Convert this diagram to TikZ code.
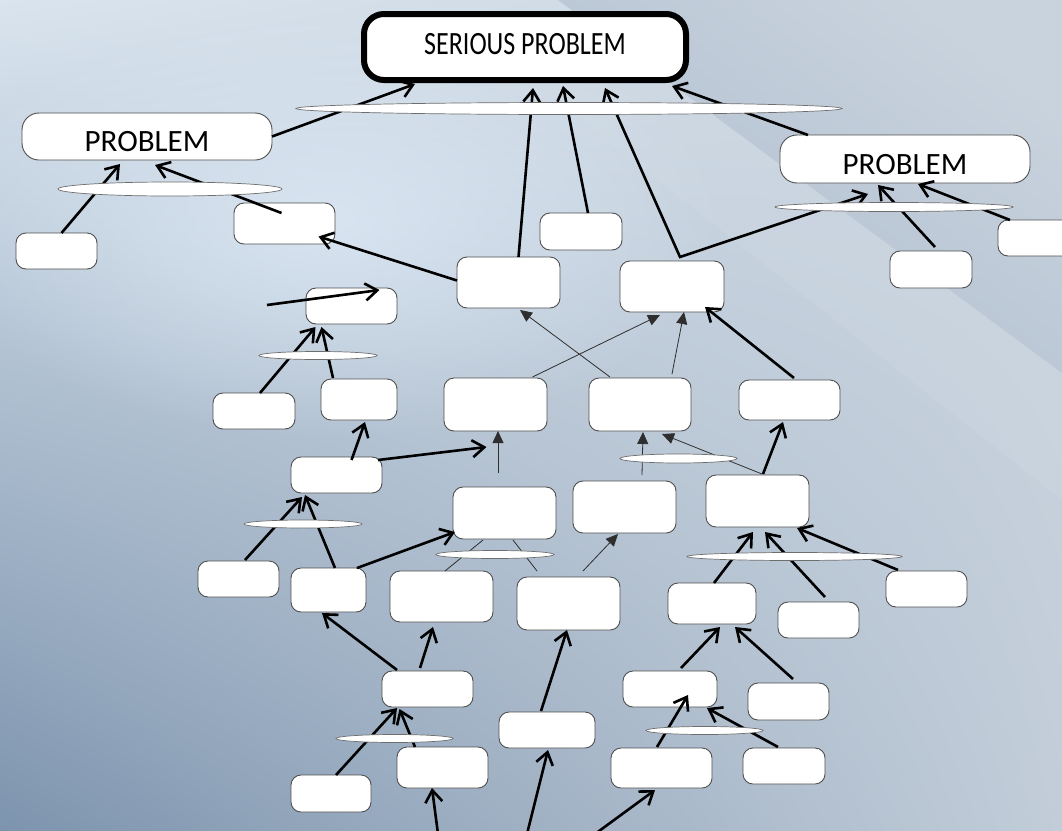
\documentclass[tikz,border=0pt]{standalone}
\usepackage{fontspec}
\setmainfont{Carlito}
\usetikzlibrary{arrows.meta,shapes.geometric,fadings,shadings}

\definecolor{bgUL}{HTML}{D9E4EE}
\definecolor{bgUR}{HTML}{CBD5E0}
\definecolor{bgLL}{HTML}{7D94AE}
\definecolor{bgLR}{HTML}{C2CDD9}
\definecolor{glowc}{HTML}{DCE8F4}
\definecolor{creaseLight}{HTML}{C9D3DE}
\definecolor{creaseDark}{HTML}{AEBDCD}
\definecolor{bandc}{HTML}{D3DDE7}
\definecolor{boxline}{HTML}{4F4F4F}
\definecolor{jline}{HTML}{6E6E6E}
\definecolor{thinc}{HTML}{2E2E2E}

\tikzfading[name=softglow, inner color=transparent!15, outer color=transparent!100]

% box: name, centre x, centre y, width, height
\newcommand\bx[5]{\node[box, minimum width=#4pt, minimum height=#5pt] (#1) at (#2,#3) {};}
% junction ellipse: name, centre x, centre y, width, height
\newcommand\jn[5]{\node[junction, minimum width=#4pt, minimum height=#5pt] (#1) at (#2,#3) {};}

\begin{document}
\begin{tikzpicture}[x=1pt,y=-1pt,
  >={Straight Barb[length=12pt,width=17pt]},
  box/.style={draw=boxline, fill=white, rounded corners=10pt, line width=0.9pt,
    inner sep=0pt, outer sep=0pt},
  problem/.style={box, rounded corners=17pt, font=\fontsize{31}{31}\selectfont,
    text height=30pt, text depth=0pt},
  serious/.style={draw=black, fill=white, line width=6pt, rounded corners=20pt,
    inner sep=0pt, outer sep=0pt, font=\fontsize{26}{26}\selectfont,
    text height=22pt, text depth=7pt},
  junction/.style={ellipse, draw=jline, fill=white, line width=0.7pt, inner sep=0pt},
  link/.style={line width=2.6pt, ->},
  linkboth/.style={line width=2.6pt, <->},
  fine/.style={line width=0.8pt, draw=thinc, -{Triangle[length=12pt,width=11pt]}},
  plain/.style={line width=0.8pt, draw=thinc}]

\useasboundingbox (0,0) rectangle (1062,830);
\clip (0,0) rectangle (1062,830);

% background
\shade[upper left=bgUL, upper right=bgUR, lower left=bgLL, lower right=bgLR]
  (0,0) rectangle (1062,830);
\fill[glowc, path fading=softglow] (330,220) ellipse (400 and 220);
\fill[bandc, opacity=0.25] (430,0) -- (558,0) -- (1062,373) -- (1062,500) -- cycle;
\shade[top color=creaseLight, bottom color=creaseDark, shading angle=-36.5]
  (558,0) -- (1062,0) -- (1062,373) -- cycle;

% boxes
\node[serious, minimum width=322pt, minimum height=66pt] (SP) at (525,47)
  {\scalebox{1}[1.25]{SERIOUS PROBLEM}};
\node[problem, minimum width=250pt, minimum height=47pt] (PL) at (147,136.5) {PROBLEM};
\node[problem, minimum width=250pt, minimum height=48pt] (PR) at (905,159) {PROBLEM};

\bx{L1}{56.5}{251}{81}{36}
\bx{L2}{284.5}{223.5}{101}{41}
\bx{M1}{581}{231.5}{82}{37}
\bx{R1}{1039}{238}{82}{36}
\bx{R2}{931}{269.5}{82}{37}
\bx{A}{508.5}{282.5}{103}{51}
\bx{B}{672}{286.5}{104}{51}
\bx{C}{351.5}{306}{91}{36}
\bx{D}{254}{411}{82}{36}
\bx{E}{359}{399.5}{76}{41}
\bx{F}{495.5}{404.5}{103}{53}
\bx{G}{640}{404.5}{102}{53}
\bx{H}{789.5}{400}{101}{40}
\bx{I}{336.5}{475}{91}{36}
\bx{J}{504.5}{513}{103}{52}
\bx{K}{624.5}{507}{103}{52}
\bx{L}{757.5}{501}{103}{52}
\bx{M}{238.5}{579}{81}{36}
\bx{N}{328.5}{590}{75}{44}
\bx{O}{441.5}{596.5}{103}{51}
\bx{P}{568.5}{603.5}{103}{53}
\bx{Q}{712}{603.5}{88}{41}
\bx{R}{926.5}{589}{81}{36}
\bx{S}{818.5}{620}{81}{36}
\bx{T}{427.5}{689}{91}{36}
\bx{U}{670}{689}{94}{36}
\bx{V}{788.5}{701.5}{81}{37}
\bx{W}{547}{730}{96}{36}
\bx{X}{331}{793.5}{80}{37}
\bx{Y}{442.5}{767.5}{91}{41}
\bx{Z}{661.5}{768}{101}{40}
\bx{AA}{784}{766}{82}{36}

% loose ends
\coordinate (cin) at (267,305);
\coordinate (b1) at (438,834);
\coordinate (b2) at (527,834);
\coordinate (b3) at (595,834);

% links into the serious problem
\draw[link] (PL.east) -- ([xshift=-110pt,yshift=-4pt]SP.south);
\draw[link] ([xshift=10pt]A.north) -- ([xshift=8pt,yshift=-8pt]SP.south);
\draw[link] ([xshift=7pt]M1.north) -- ([xshift=38pt,yshift=-6pt]SP.south);
\draw[linkboth] ([xshift=80pt,yshift=-8pt]SP.south) -- ([xshift=8pt,yshift=4pt]B.north)
  -- ([xshift=-37pt,yshift=-11pt]PR.south);
\draw[link] ([xshift=-97pt]PR.north) -- ([xshift=147pt,yshift=-6pt]SP.south);

% left problem
\draw[link] ([xshift=5pt]L1.north) -- ([xshift=-27pt,yshift=-4pt]PL.south);
\draw[link] ([xshift=-3pt,yshift=-10pt]L2.north) -- ([xshift=8pt,yshift=-5pt]PL.south);
\draw[link] ([yshift=2pt]A.west) -- ([xshift=34pt,yshift=-13pt]L2.center);

% right problem
\draw[link] ([xshift=4pt,yshift=4pt]R2.north) -- ([xshift=-27pt,yshift=-2pt]PR.south);
\draw[link] ([xshift=-29pt]R1.north) -- ([xshift=13pt,yshift=-1pt]PR.south);

% left column
\draw[link] (cin) -- ([xshift=28pt,yshift=16pt]C.center);
\draw[link] ([xshift=6pt]D.north) -- ([xshift=-36pt,yshift=-3pt]C.south);
\draw[link] ([xshift=-26pt,yshift=1pt]E.north) -- ([xshift=-30pt,yshift=-3pt]C.south);
\draw[link] ([xshift=15pt,yshift=-3pt]I.north) -- ([xshift=6pt,yshift=-2pt]E.south);
\draw[link] ([xshift=-4pt,yshift=15pt]I.east) -- ([xshift=-9pt,yshift=-16pt]F.south);
\draw[link] ([xshift=6.5pt,yshift=1pt]M.north) -- ([xshift=-34.5pt,yshift=-4pt]I.south);
\draw[link] ([xshift=6.5pt]N.north) -- ([xshift=-31.5pt,yshift=-2pt]I.south);
\draw[link] ([xshift=28.5pt]N.north) -- ([xshift=2pt,yshift=-19pt]J.west);

% thin links in the middle
\draw[fine] ([xshift=-6.5pt,yshift=14pt]J.north) -- ([xshift=2.5pt]F.south);
\draw[fine] ([xshift=37pt,yshift=1pt]F.north) -- ([xshift=-12pt,yshift=-3pt]B.south);
\draw[fine] ([xshift=-30pt,yshift=1pt]G.north) -- ([xshift=11.5pt,yshift=-2pt]A.south);
\draw[fine] ([xshift=32pt,yshift=4pt]G.north) -- ([xshift=12pt]B.south);
\draw[fine] ([xshift=17.5pt,yshift=6pt]K.north) -- ([xshift=3pt,yshift=-1pt]G.south);
\draw[fine] ([xshift=4.5pt,yshift=1pt]L.north) -- ([xshift=22pt,yshift=-3pt]G.south);
\draw[fine] ([xshift=14.5pt,yshift=6pt]P.north) -- ([xshift=-6.5pt,yshift=-1pt]K.south);
\draw[plain] ([xshift=3.5pt]O.north) -- ([xshift=-21.5pt,yshift=-1pt]J.south);
\draw[plain] ([xshift=-31.5pt,yshift=6pt]P.north) -- ([xshift=8.5pt,yshift=-1pt]J.south);

% right column
\draw[link] ([xshift=4.5pt,yshift=2pt]H.north) -- ([xshift=-19pt,yshift=-20.5pt]B.east);
\draw[link] ([xshift=5.5pt,yshift=1pt]L.north) -- ([xshift=-6.5pt,yshift=-2pt]H.south);
\draw[link] ([xshift=2pt]Q.north) -- ([xshift=-4.5pt,yshift=-5pt]L.south);
\draw[link] ([xshift=6.5pt,yshift=5pt]S.north) -- ([xshift=7.5pt,yshift=-5pt]L.south);
\draw[link] ([xshift=-28.5pt,yshift=1pt]R.north) -- ([xshift=-12pt,yshift=-1pt]L.south east);

% lower part
\draw[link] ([xshift=-30.5pt,yshift=1pt]T.north) -- ([xshift=-6.5pt,yshift=-1pt]N.south);
\draw[link] ([xshift=-7.5pt,yshift=3pt]T.north) -- ([xshift=-8.5pt,yshift=-5pt]O.south);
\draw[link] ([xshift=-6pt,yshift=1pt]W.north) -- ([xshift=-1.5pt]P.south);
\draw[link] ([xshift=5pt]X.north) -- ([xshift=-30.5pt,yshift=-1pt]T.south);
\draw[link] ([xshift=-27.5pt]Y.north) -- ([xshift=-28pt,yshift=-2pt]T.south);
\draw[link] (b1) -- ([xshift=-10.5pt]Y.south);
\draw[link] (b2) -- ([xshift=1pt,yshift=-2pt]W.south);
\draw[link] (b3) -- ([xshift=-6.5pt,yshift=-2pt]Z.south);
\draw[link] ([xshift=-4.5pt,yshift=1pt]Z.north) -- ([xshift=18pt,yshift=12pt]U.south);
\draw[link] ([xshift=-6pt,yshift=1pt]AA.north) -- ([xshift=37pt,yshift=-1pt]U.south);
\draw[link] ([xshift=11pt,yshift=3pt]U.north) -- ([xshift=8pt,yshift=-3pt]Q.south);
\draw[link] ([xshift=4.5pt,yshift=4pt]V.north) -- ([xshift=23pt,yshift=-3pt]Q.south);

% junction ellipses over the links
\jn{jSP}{569}{108.5}{546}{12}
\jn{jPL}{170}{189}{224}{14}
\jn{jPR}{894}{207}{238}{9}
\jn{jC}{318}{355.5}{118}{8}
\jn{jG}{678.5}{458.5}{117}{9}
\jn{jI}{303}{524}{118}{8}
\jn{jJ}{495}{554.5}{118}{8}
\jn{jL}{794.5}{556.5}{215}{8}
\jn{jT}{394.5}{738.5}{117}{8}
\jn{jU}{704.5}{730.5}{117}{8}

\end{tikzpicture}
\end{document}
